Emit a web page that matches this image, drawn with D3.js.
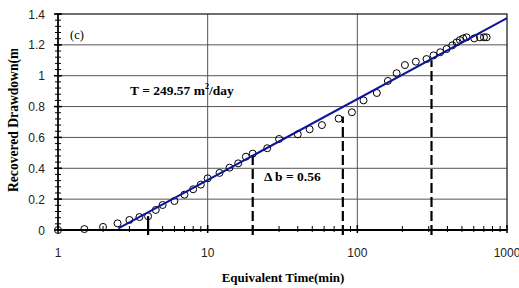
<!DOCTYPE html>
<html>
<head>
    <script src="https://d3js.org/d3.v7.min.js"></script>
    <style>
        body { margin: 0; background: #fff; }
        .tick-label { font-family: "Liberation Sans", Arial, sans-serif; font-size: 12px; fill: #222; }
        .serif { font-family: "Liberation Serif", "Times New Roman", serif; font-weight: bold; fill: #000; }
    </style>
</head>
<body>
<svg id="chart" width="519" height="288"></svg>
<script>
    // data
    const timeMin = [1, 1.5, 2, 2.5, 3, 3.5, 4, 4.5, 5, 6, 7, 8, 9, 10, 12, 14, 16, 18, 20,
        25, 30, 40, 48, 58, 75, 92, 110, 135, 160, 183, 208, 246, 290, 323, 358, 395,
        431, 461, 485, 510, 537, 604, 659, 701, 731];
    const drawdown = [0, 0.006, 0.02, 0.043, 0.065, 0.084, 0.089, 0.13, 0.162, 0.188, 0.229, 0.264, 0.294, 0.335, 0.37, 0.404, 0.432, 0.475, 0.495,
        0.53, 0.59, 0.62, 0.653, 0.68, 0.722, 0.763, 0.84, 0.888, 0.966, 1.016, 1.069, 1.091, 1.108, 1.132, 1.152, 1.173,
        1.197, 1.216, 1.231, 1.242, 1.249, 1.242, 1.249, 1.249, 1.249];
    const fitX = [2.53, 1000];
    const fitY = [0.01, 1.374];
    const markX = [4, 20, 80, 313];
    const markTop = [0.09, 0.497, 0.735, 1.10];
    const xTicks = [1, 10, 100, 1000];
    const yTicks = [0, 0.2, 0.4, 0.6, 0.8, 1, 1.2, 1.4];

    const svg = d3.select("#chart");
    const pLeft = 58, pRight = 507, pTop = 14, pBottom = 230;

    const x = d3.scaleLog().domain([1, 1000]).range([pLeft, pRight]);
    const y = d3.scaleLinear().domain([0, 1.4]).range([pBottom, pTop]);

    // grid
    svg.append("g").selectAll("line")
        .data(yTicks.slice(1, -1))
        .enter().append("line")
        .attr("x1", pLeft).attr("x2", pRight)
        .attr("y1", d => y(d)).attr("y2", d => y(d))
        .attr("stroke", "#555").attr("stroke-width", 1);
    svg.append("g").selectAll("line")
        .data([10, 100])
        .enter().append("line")
        .attr("x1", d => x(d)).attr("x2", d => x(d))
        .attr("y1", pTop).attr("y2", pBottom)
        .attr("stroke", "#555").attr("stroke-width", 1);

    // frame
    svg.append("rect")
        .attr("x", pLeft).attr("y", pTop)
        .attr("width", pRight - pLeft).attr("height", pBottom - pTop)
        .attr("fill", "none").attr("stroke", "#222").attr("stroke-width", 1.3);

    // y minor ticks (cross the axis)
    const yMinor = d3.range(0, 1.4001, 0.04);
    svg.append("g").selectAll("line")
        .data(yMinor)
        .enter().append("line")
        .attr("x1", pLeft - 3).attr("x2", pLeft + 3)
        .attr("y1", d => y(d)).attr("y2", d => y(d))
        .attr("stroke", "#000").attr("stroke-width", 1);
    svg.append("g").selectAll("line")
        .data(yTicks)
        .enter().append("line")
        .attr("x1", pLeft - 4).attr("x2", pLeft + 4)
        .attr("y1", d => y(d)).attr("y2", d => y(d))
        .attr("stroke", "#000").attr("stroke-width", 1.5);

    // x minor ticks
    const xMinor = [];
    [1, 10, 100].forEach(dec => { for (let k = 2; k <= 9; k++) xMinor.push(dec * k); });
    svg.append("g").selectAll("line")
        .data(xMinor)
        .enter().append("line")
        .attr("x1", d => x(d)).attr("x2", d => x(d))
        .attr("y1", pBottom - 4).attr("y2", pBottom + 2)
        .attr("stroke", "#000").attr("stroke-width", 1);
    svg.append("g").selectAll("line")
        .data(xTicks)
        .enter().append("line")
        .attr("x1", d => x(d)).attr("x2", d => x(d))
        .attr("y1", pBottom - 5).attr("y2", pBottom + 3)
        .attr("stroke", "#000").attr("stroke-width", 1.5);

    // axis lines
    svg.append("line").attr("x1", pLeft).attr("x2", pRight).attr("y1", pBottom).attr("y2", pBottom)
        .attr("stroke", "#000").attr("stroke-width", 1.8);
    svg.append("line").attr("x1", pLeft).attr("x2", pLeft).attr("y1", pTop).attr("y2", pBottom)
        .attr("stroke", "#000").attr("stroke-width", 1.5);

    // tick labels
    svg.append("g").selectAll("text")
        .data(yTicks)
        .enter().append("text")
        .attr("class", "tick-label")
        .attr("x", 45).attr("y", d => y(d) + 4.5)
        .attr("text-anchor", "end")
        .text(d => d);
    svg.append("g").selectAll("text")
        .data(xTicks)
        .enter().append("text")
        .attr("class", "tick-label")
        .attr("x", d => x(d)).attr("y", 257)
        .attr("text-anchor", "middle")
        .text(d => d);

    // vertical marker lines
    svg.append("g").selectAll("line")
        .data(markX)
        .enter().append("line")
        .attr("x1", d => x(d)).attr("x2", d => x(d))
        .attr("y1", 235).attr("y2", (d, i) => y(markTop[i]))
        .attr("stroke", "#000").attr("stroke-width", 2.2)
        .attr("stroke-dasharray", (d, i) => i === 0 ? null : "10,4");

    // observed points
    svg.append("g").selectAll("circle")
        .data(timeMin)
        .enter().append("circle")
        .attr("cx", d => x(d))
        .attr("cy", (d, i) => y(drawdown[i]))
        .attr("r", 3.5)
        .attr("fill", "none")
        .attr("stroke", "#000").attr("stroke-width", 1);

    // fitted straight line
    svg.append("path")
        .datum(fitX.map((d, i) => [d, fitY[i]]))
        .attr("d", d3.line().x(d => x(d[0])).y(d => y(d[1])))
        .attr("fill", "none")
        .attr("stroke", "#0d1596").attr("stroke-width", 2);

    // annotations
    svg.append("text").attr("class", "serif").style("font-weight", "normal")
        .attr("x", 70).attr("y", 39).attr("font-size", 12.5).text("(c)");

    const tLabel = svg.append("text").attr("class", "serif")
        .attr("x", 130).attr("y", 95).attr("font-size", 13.5);
    tLabel.append("tspan").text("T = 249.57 m");
    tLabel.append("tspan").attr("dy", -6).attr("font-size", 8).text("2");
    tLabel.append("tspan").attr("dy", 6).text("/day");

    svg.append("text").attr("class", "serif")
        .attr("x", 264).attr("y", 181).attr("font-size", 13.5)
        .text("\u0394 b = 0.56");

    svg.append("text").attr("class", "serif")
        .attr("x", 283).attr("y", 282).attr("font-size", 13)
        .attr("text-anchor", "middle")
        .text("Equivalent Time(min)");

    // y axis title, cut off at the top like the original
    svg.append("clipPath").attr("id", "ylab-clip")
        .append("rect").attr("x", 0).attr("y", 49).attr("width", 40).attr("height", 200);
    svg.append("g").attr("clip-path", "url(#ylab-clip)")
        .append("text").attr("class", "serif")
        .attr("transform", "translate(18,192) rotate(-90)")
        .attr("font-size", 13.6)
        .text("Recovered Drawdown(m)");
</script>
</body>
</html>
